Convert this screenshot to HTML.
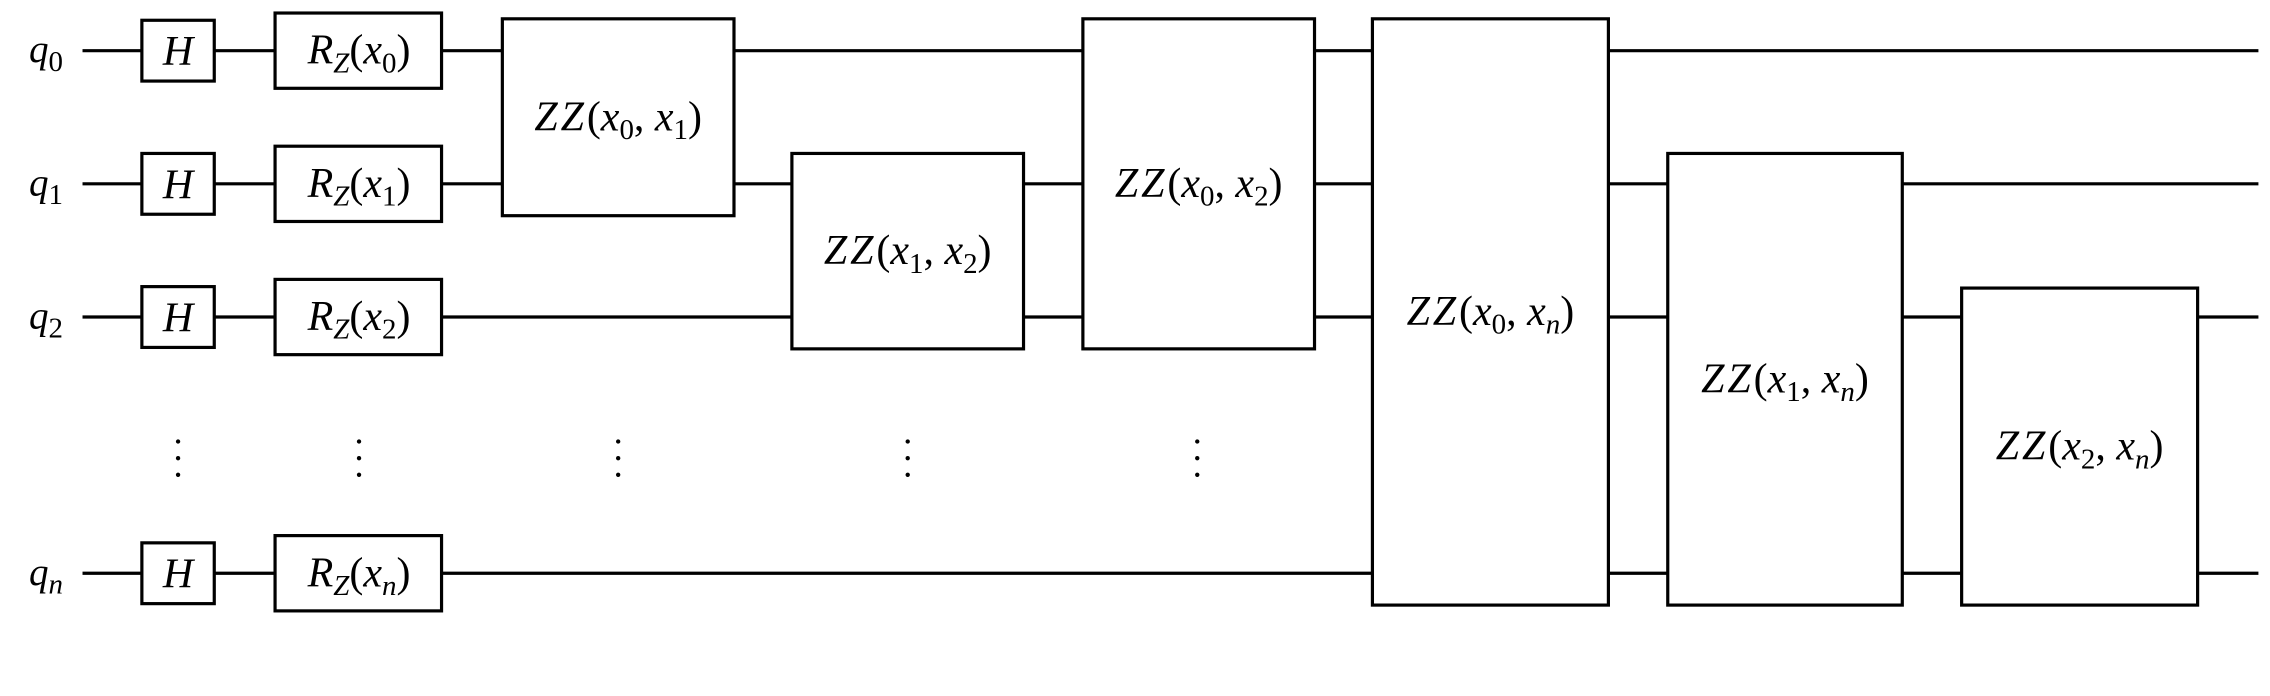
<!DOCTYPE html>
<html><head><meta charset="utf-8"><style>
html,body{margin:0;padding:0;background:#fff;}
svg{display:block;}
text{font-family:"Liberation Serif",serif;fill:#000;}
.it{font-style:italic;}
</style></head><body>
<svg id="c" width="2270" height="696" viewBox="0 0 1568 480.8" preserveAspectRatio="none" xmlns="http://www.w3.org/2000/svg"></svg>
<script>
const wireY=[35,127,219,396];
const wireLabels=["0","1","2","n"];
const hGates=[0,1,2,3];
const rzGates=["0","1","2","n"];
const zzGates=[
 {x0:347,x1:507,y0:13,y1:149,a:"0",b:"1"},
 {x0:547,x1:707,y0:106,y1:241,a:"1",b:"2"},
 {x0:748,x1:908,y0:13,y1:241,a:"0",b:"2"},
 {x0:948,x1:1111,y0:13,y1:418,a:"0",b:"n"},
 {x0:1152,x1:1314,y0:106,y1:418,a:"1",b:"n"},
 {x0:1355,x1:1518,y0:199,y1:418,a:"2",b:"n"}
];
const dotX=[123,248,427,627,827];
const svg=document.getElementById('c');
const NS="http://www.w3.org/2000/svg";
function mk(t,attrs,parent){const e=document.createElementNS(NS,t);for(const k in attrs)e.setAttribute(k,attrs[k]);(parent||svg).appendChild(e);return e;}
function sub(s){return /[0-9]/.test(s)?'<tspan font-size="20" dy="6">'+s+'</tspan>':'<tspan font-size="20" dy="6" class="it">'+s+'</tspan>';}
wireY.forEach((y,i)=>{
 const l=mk('line',{x1:57,x2:1560,y1:y,y2:y,stroke:'#000','stroke-width':2.2});
 
 
 const t=mk('text',{x:20,y:y+8,'font-size':27});
 t.innerHTML='<tspan class="it">q</tspan>'+sub(wireLabels[i]);
 
 
});
hGates.forEach(i=>{
 const y=wireY[i];
 const g=mk('g',{});
 
 
 mk('rect',{x:98,y:y-21,width:50,height:42,fill:'#fff',stroke:'#000','stroke-width':2.2},g);
 const t=mk('text',{x:123,y:y+10,'font-size':29,'text-anchor':'middle',class:'it'},g);
 t.textContent='H';
});
rzGates.forEach((s,i)=>{
 const y=wireY[i];
 const g=mk('g',{});
 
 
 mk('rect',{x:190,y:y-26,width:115,height:52,fill:'#fff',stroke:'#000','stroke-width':2.2},g);
 const t=mk('text',{x:248,y:y+9,'font-size':29,'text-anchor':'middle'},g);
 t.innerHTML='<tspan class="it">R</tspan><tspan font-size="20" dy="6" class="it">Z</tspan><tspan dy="-6">(</tspan><tspan class="it">x</tspan>'+sub(s)+'<tspan dy="-6">)</tspan>';
});
zzGates.forEach(z=>{
 const g=mk('g',{});
 
 
 mk('rect',{x:z.x0,y:z.y0,width:z.x1-z.x0,height:z.y1-z.y0,fill:'#fff',stroke:'#000','stroke-width':2.2},g);
 const t=mk('text',{x:(z.x0+z.x1)/2,y:(z.y0+z.y1)/2+9,'font-size':29,'text-anchor':'middle'},g);
 t.innerHTML='<tspan class="it" letter-spacing="2">ZZ</tspan>(<tspan class="it">x</tspan>'+sub(z.a)+'<tspan dy="-6">, </tspan><tspan class="it">x</tspan>'+sub(z.b)+'<tspan dy="-6">)</tspan>';
});
dotX.forEach((x,i)=>{
 const g=mk('g',{});
 
 
 [305,316.5,328].forEach(y=>mk('circle',{cx:x,cy:y,r:1.5,fill:'#000'},g));
});
</script>
</body></html>
